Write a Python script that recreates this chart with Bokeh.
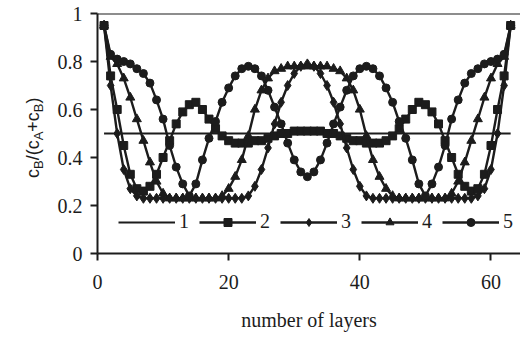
from bokeh.plotting import figure
from bokeh.layouts import row
from bokeh.models import Range1d, FixedTicker, Legend, LegendItem, Span, Div
from bokeh.embed import file_html
from bokeh.resources import INLINE

# ---------------- data ----------------
layers = list(range(1, 64))

series1 = [0.5, 0.5, 0.5, 0.5, 0.5, 0.5, 0.5, 0.5, 0.5, 0.5, 0.5, 0.5, 0.5, 0.5, 0.5, 0.5,
           0.5, 0.5, 0.5, 0.5, 0.5, 0.5, 0.5, 0.5, 0.5, 0.5, 0.5, 0.5, 0.5, 0.5, 0.5, 0.5,
           0.5, 0.5, 0.5, 0.5, 0.5, 0.5, 0.5, 0.5, 0.5, 0.5, 0.5, 0.5, 0.5, 0.5, 0.5, 0.5,
           0.5, 0.5, 0.5, 0.5, 0.5, 0.5, 0.5, 0.5, 0.5, 0.5, 0.5, 0.5, 0.5, 0.5, 0.5]

series2 = [0.95, 0.74, 0.60, 0.45, 0.33, 0.27, 0.26, 0.28, 0.33, 0.40, 0.47, 0.54, 0.59, 0.62, 0.63, 0.60,
           0.56, 0.52, 0.49, 0.47, 0.46, 0.46, 0.46, 0.47, 0.47, 0.48, 0.49, 0.50, 0.50, 0.51, 0.51, 0.51,
           0.51, 0.51, 0.50, 0.50, 0.49, 0.48, 0.47, 0.47, 0.46, 0.46, 0.46, 0.47, 0.49, 0.52, 0.56, 0.60,
           0.63, 0.62, 0.59, 0.54, 0.47, 0.40, 0.33, 0.28, 0.26, 0.27, 0.33, 0.45, 0.60, 0.74, 0.95]

series3 = [0.95, 0.70, 0.50, 0.35, 0.27, 0.24, 0.23, 0.23, 0.23, 0.23, 0.23, 0.23, 0.23, 0.23, 0.23, 0.23,
           0.23, 0.23, 0.23, 0.23, 0.23, 0.23, 0.24, 0.28, 0.35, 0.44, 0.54, 0.63, 0.70, 0.75, 0.78, 0.79,
           0.78, 0.75, 0.70, 0.63, 0.54, 0.44, 0.35, 0.28, 0.24, 0.23, 0.23, 0.23, 0.23, 0.23, 0.23, 0.23,
           0.23, 0.23, 0.23, 0.23, 0.23, 0.23, 0.23, 0.23, 0.23, 0.24, 0.27, 0.35, 0.50, 0.70, 0.95]

series4 = [0.95, 0.82, 0.79, 0.73, 0.65, 0.56, 0.47, 0.38, 0.30, 0.25, 0.23, 0.23, 0.23, 0.23, 0.23, 0.23,
           0.23, 0.23, 0.24, 0.27, 0.32, 0.39, 0.49, 0.60, 0.68, 0.73, 0.76, 0.77, 0.78, 0.78, 0.78, 0.78,
           0.78, 0.78, 0.78, 0.77, 0.76, 0.73, 0.68, 0.60, 0.49, 0.39, 0.32, 0.27, 0.24, 0.23, 0.23, 0.23,
           0.23, 0.23, 0.23, 0.23, 0.23, 0.25, 0.30, 0.38, 0.47, 0.56, 0.65, 0.73, 0.79, 0.82, 0.95]

series5 = [0.95, 0.83, 0.81, 0.80, 0.79, 0.77, 0.75, 0.71, 0.64, 0.56, 0.45, 0.36, 0.29, 0.24, 0.29, 0.39,
           0.48, 0.55, 0.63, 0.69, 0.74, 0.77, 0.78, 0.77, 0.74, 0.68, 0.61, 0.54, 0.46, 0.39, 0.34, 0.32,
           0.34, 0.39, 0.46, 0.54, 0.61, 0.68, 0.74, 0.77, 0.78, 0.77, 0.74, 0.69, 0.63, 0.55, 0.48, 0.39,
           0.29, 0.24, 0.29, 0.36, 0.45, 0.56, 0.64, 0.71, 0.75, 0.77, 0.79, 0.80, 0.81, 0.83, 0.95]

legend_labels = ["1", "2", "3", "4", "5"]
x_ticks = [0, 20, 40, 60]
y_ticks = [0, 0.2, 0.4, 0.6, 0.8, 1]
y_tick_labels = ["0", "0.2", "0.4", "0.6", "0.8", "1"]
x_title = "number of layers"
# y title c_B/(c_A+c_B): (text piece, is_subscript)
y_title_parts = [("c", False), ("B", True), ("/(c", False), ("A", True),
                 ("+c", False), ("B", True), (")", False)]

# ---------------- layout ----------------
W, H = 520, 342
STRIP = 50                       # narrow strip holding the rotated y title
LEFT, RIGHT, TOP, BOTTOM = 97, 0, 13, 89
X0, X1 = 0, 64.5
INK = "#1c1c1c"
SERIF = "Liberation Serif"
SANS = "Liberation Sans"

p = figure(width=W - STRIP, height=H, output_backend="svg", toolbar_location=None,
           x_range=Range1d(X0, X1), y_range=Range1d(0, 1),
           min_border_left=LEFT - STRIP, min_border_right=RIGHT,
           min_border_top=TOP, min_border_bottom=BOTTOM)
p.outline_line_color = None
p.grid.visible = False
p.background_fill_color = "white"
p.border_fill_color = "white"

for ax in (p.xaxis[0], p.yaxis[0]):
    ax.axis_line_width = 2
    ax.axis_line_color = INK
    ax.major_tick_line_color = INK
    ax.major_tick_line_width = 2
    ax.major_tick_out = 7
    ax.major_tick_in = 0
    ax.minor_tick_line_color = None
    ax.major_label_text_font = SERIF
    ax.major_label_text_font_size = "20px"
    ax.major_label_text_color = INK

p.xaxis.ticker = FixedTicker(ticks=x_ticks)
p.xaxis.major_label_standoff = 14
p.xaxis.axis_label = x_title
p.xaxis.axis_label_text_font = SERIF
p.xaxis.axis_label_text_font_size = "20px"
p.xaxis.axis_label_text_font_style = "normal"
p.xaxis.axis_label_text_color = INK
p.xaxis.axis_label_standoff = 17

p.yaxis.ticker = FixedTicker(ticks=y_ticks)
p.yaxis.major_label_overrides = {t: s for t, s in zip(y_ticks, y_tick_labels)}
p.yaxis.major_label_standoff = 8

# top frame line
p.add_layout(Span(location=1, dimension="width", line_color=INK, line_width=2))

# ---------------- series ----------------
LW = 2.4
r1 = p.line(layers, series1, line_color=INK, line_width=1.8)

l2 = p.line(layers, series2, line_color=INK, line_width=LW)
m2 = p.scatter(layers, series2, marker="square", size=8, color=INK)

l3 = p.line(layers, series3, line_color=INK, line_width=LW)
m3 = p.scatter(layers, series3, marker="diamond", size=10, color=INK)

l4 = p.line(layers, series4, line_color=INK, line_width=LW)
m4 = p.scatter(layers, series4, marker="triangle", size=9, color=INK)

l5 = p.line(layers, series5, line_color=INK, line_width=LW)
m5 = p.scatter(layers, series5, marker="circle", size=8, color=INK)

items = [LegendItem(label=legend_labels[0], renderers=[r1]),
         LegendItem(label=legend_labels[1], renderers=[l2, m2]),
         LegendItem(label=legend_labels[2], renderers=[l3, m3]),
         LegendItem(label=legend_labels[3], renderers=[l4, m4]),
         LegendItem(label=legend_labels[4], renderers=[l5, m5])]
legend = Legend(items=items, orientation="horizontal", location=(21, 20),
                glyph_width=57, glyph_height=20, label_standoff=4, spacing=10,
                label_width=10, padding=0, margin=0, border_line_color=None,
                background_fill_alpha=0,
                label_text_font=SERIF, label_text_font_size="20px",
                label_text_color=INK)
p.add_layout(legend)

# ---------------- y title (HTML text, rotated, with subscripts) ----------------
MAIN_FS, SUB_FS = 18, 13
title_html = "".join(
    f'<span style="font-size:{SUB_FS}px;vertical-align:-4px;line-height:0">{txt}</span>' if sub
    else f'<span>{txt}</span>'
    for txt, sub in y_title_parts)
# baseline of the rotated title sits at x = 39 px; text starts (bottom) at y = 178 px
ascent = 15
strip_html = (
    f'<div style="position:relative;width:{STRIP}px;height:{H}px;background:white;">'
    f'<div style="position:absolute;left:{39 - ascent}px;top:178px;'
    f'transform-origin:0 0;transform:rotate(-90deg);white-space:nowrap;'
    f'font-family:\'{SANS}\';font-size:{MAIN_FS}px;line-height:{MAIN_FS}px;color:{INK};">'
    f'{title_html}</div></div>'
)
strip = Div(text=strip_html, width=STRIP, height=H, margin=0, disable_math=True)

layout = row(strip, p, spacing=0)
open("out.html", "w").write(file_html(layout, INLINE))
